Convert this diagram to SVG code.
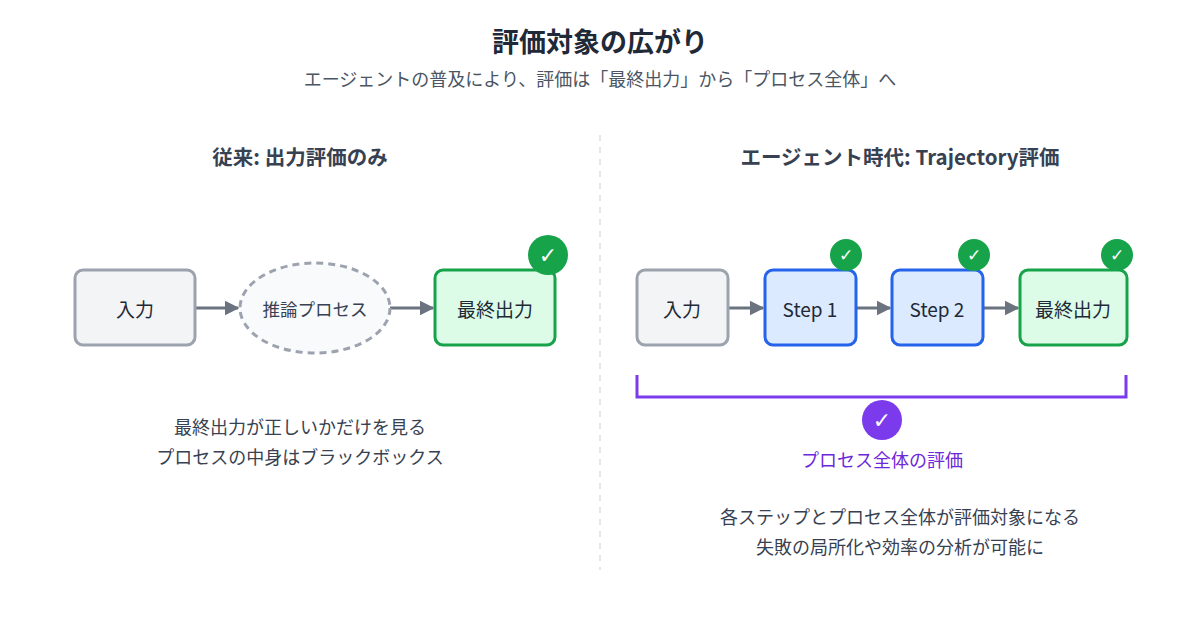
<svg xmlns="http://www.w3.org/2000/svg" width="1200" height="630" viewBox="0 0 1200 630">
<style>
text{font-family:"Noto Sans CJK JP","Noto Sans",sans-serif;}
.t{font-size:27px;font-weight:700;fill:#1f2937;text-anchor:middle}
.sub{font-size:18px;fill:#4b5563;text-anchor:middle}
.h{font-size:20.5px;font-weight:700;fill:#374151;text-anchor:middle}
.n{font-size:19px;fill:#1f2937;text-anchor:middle;dominant-baseline:central}
.d{font-size:18px;fill:#374151;text-anchor:middle}
.gray{fill:#f3f4f6;stroke:#9ca3af;stroke-width:3}
.blue{fill:#dbeafe;stroke:#2563eb;stroke-width:3}
.green{fill:#dcfce7;stroke:#16a34a;stroke-width:3}
.ck{font-size:20px;fill:#fff;text-anchor:middle;dominant-baseline:central;font-family:"DejaVu Sans",sans-serif}
.c{stroke:#6b7280;stroke-width:3;fill:none;marker-end:url(#a)}
</style>
<defs><marker id="a" viewBox="0 0 10 10" refX="9" refY="5" markerWidth="5" markerHeight="5" orient="auto" markerUnits="strokeWidth"><path d="M0,0L10,5L0,10z" fill="#6b7280"/></marker></defs>
<rect width="1200" height="630" fill="#fff"/>
<text class="t" x="600" y="52">評価対象の広がり</text>
<text class="sub" x="600" y="86">エージェントの普及により、評価は「最終出力」から「プロセス全体」へ</text>
<line x1="600" y1="135" x2="600" y2="570" stroke="#e5e7eb" stroke-width="2" stroke-dasharray="6,6"/>
<text class="h" x="300" y="165">従来: 出力評価のみ</text>
<text class="h" x="900" y="165">エージェント時代: Trajectory評価</text>
<g id="connectors">
<line class="c" x1="196" y1="308" x2="238" y2="308"/>
<line class="c" x1="390" y1="308" x2="433" y2="308"/>
<line class="c" x1="729" y1="308" x2="763" y2="308"/>
<line class="c" x1="857" y1="308" x2="890" y2="308"/>
<line class="c" x1="984" y1="308" x2="1018" y2="308"/>
<path d="M637,375V397H1126V375" fill="none" stroke="#7c3aed" stroke-width="3"/>
</g>
<g id="l-input"><rect class="gray" x="75" y="270" width="120" height="75" rx="8"/><text class="n" x="135" y="308">入力</text></g>
<g id="l-process"><ellipse cx="315" cy="308" rx="75" ry="45" fill="#f8fafc" stroke="#9ca3af" stroke-width="3" stroke-dasharray="7,5"/><text class="n" x="315" y="308" style="font-size:17.5px;fill:#374151">推論プロセス</text></g>
<g id="l-output"><rect class="green" x="435" y="270" width="120" height="75" rx="8"/><text class="n" x="495" y="308">最終出力</text><circle cx="548" cy="255" r="20" fill="#16a34a"/><text class="ck" x="548" y="255" style="font-size:22px">✓</text></g>
<text class="d" x="300" y="434">最終出力が正しいかだけを見る</text>
<text class="d" x="300" y="464">プロセスの中身はブラックボックス</text>
<g id="r-input"><rect class="gray" x="637" y="270" width="91" height="75" rx="8"/><text class="n" x="682" y="308">入力</text></g>
<g id="r-step1"><rect class="blue" x="765" y="270" width="91" height="75" rx="8"/><text class="n" x="810" y="308">Step 1</text><circle cx="846" cy="255" r="16" fill="#16a34a"/><text class="ck" x="846" y="255" style="font-size:17px">✓</text></g>
<g id="r-step2"><rect class="blue" x="892" y="270" width="91" height="75" rx="8"/><text class="n" x="937" y="308">Step 2</text><circle cx="974" cy="255" r="16" fill="#16a34a"/><text class="ck" x="974" y="255" style="font-size:17px">✓</text></g>
<g id="r-output"><rect class="green" x="1020" y="270" width="107" height="75" rx="8"/><text class="n" x="1073" y="308">最終出力</text><circle cx="1117" cy="255" r="16" fill="#16a34a"/><text class="ck" x="1117" y="255" style="font-size:17px">✓</text></g>
<g id="r-all"><circle cx="882" cy="420" r="20" fill="#7c3aed"/><text class="ck" x="882" y="420" style="font-size:22px">✓</text><text x="882" y="467" style="font-size:18px;fill:#6d28d9;text-anchor:middle">プロセス全体の評価</text></g>
<text class="d" x="900" y="524">各ステップとプロセス全体が評価対象になる</text>
<text class="d" x="900" y="554">失敗の局所化や効率の分析が可能に</text>
</svg>
